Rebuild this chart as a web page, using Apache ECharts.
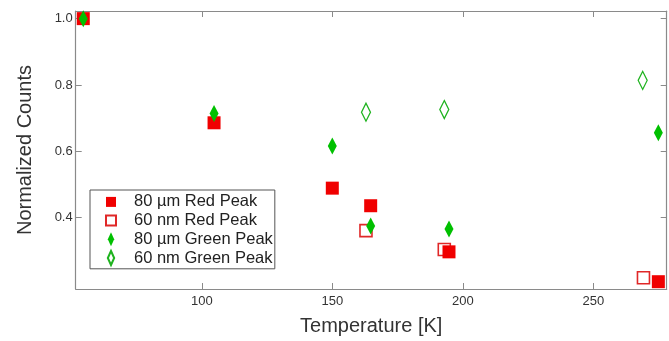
<!DOCTYPE html>
<html>
<head>
<meta charset="utf-8">
<script src="https://cdn.jsdelivr.net/npm/echarts@6/dist/echarts.min.js"></script>
<style>html,body{margin:0;padding:0;background:#fff}#c{width:669px;height:341px}</style>
</head>
<body>
<div id="c"></div>
<script>
// Data
const temps80Red   = [54.6, 104.7, 150.0, 164.7, 194.7, 274.9];
const vals80Red    = [1.000, 0.686, 0.489, 0.436, 0.297, 0.207];
const temps60Red   = [162.9, 192.9, 269.2];
const vals60Red    = [0.361, 0.304, 0.219];
const temps80Green = [54.6, 104.7, 150.0, 164.7, 194.7, 274.9];
const vals80Green  = [1.000, 0.714, 0.616, 0.375, 0.366, 0.656];
const temps60Green = [162.9, 192.9, 268.9];
const vals60Green  = [0.718, 0.726, 0.814];
const xTicks = [100, 150, 200, 250];
const yTicks = [0.4, 0.6, 0.8, 1.0];
const seriesNames = ['80 µm Red Peak', '60 nm Red Peak', '80 µm Green Peak', '60 nm Green Peak'];

const pair = (xs, ys) => xs.map((x, i) => [x, ys[i]]);
const FONT = '"Liberation Sans", Arial, sans-serif';
const frame = '#8a8a8a';

const chart = echarts.init(document.getElementById('c'), null, {renderer: 'canvas'});
const xCommon = {type: 'value', min: 51.7, max: 278.1, splitLine: {show: false},
  axisLine: {show: true, lineStyle: {color: frame, width: 1.2}},
  axisTick: {show: true, inside: true, length: 6, customValues: xTicks, lineStyle: {color: frame}}};
const yCommon = {type: 'value', min: 0.185, max: 1.023, splitLine: {show: false},
  axisLine: {show: true, lineStyle: {color: frame, width: 1.2}},
  axisTick: {show: true, inside: true, length: 6, customValues: yTicks, lineStyle: {color: frame}}};

chart.setOption({
  animation: false,
  grid: {left: 75.7, right: 2.3, top: 11, bottom: 50.5},
  xAxis: [
    Object.assign({}, xCommon, {position: 'bottom',
      name: 'Temperature [K]', nameLocation: 'middle', nameGap: 27,
      nameTextStyle: {fontFamily: FONT, fontSize: 20, color: '#333'},
      axisLabel: {customValues: xTicks, margin: 6, fontFamily: FONT, fontSize: 13, color: '#333'}}),
    Object.assign({}, xCommon, {position: 'top', axisLabel: {show: false}})
  ],
  yAxis: [
    Object.assign({}, yCommon, {position: 'left',
      name: 'Normalized Counts', nameLocation: 'middle', nameGap: 40,
      nameTextStyle: {fontFamily: FONT, fontSize: 20, color: '#333'},
      axisLabel: {customValues: yTicks, margin: 3, fontFamily: FONT, fontSize: 13, color: '#333',
        formatter: v => v.toFixed(1)}}),
    Object.assign({}, yCommon, {position: 'right', axisLabel: {show: false}})
  ],
  legend: {
    orient: 'vertical', left: 90, top: 190,
    padding: [3.4, 2, 2.3, 15],
    itemWidth: 10, itemHeight: 14, itemGap: 1.7,
    borderColor: '#555', borderWidth: 1,
    textStyle: {fontFamily: FONT, fontSize: 16.5, lineHeight: 16, color: '#222', padding: [0, 0, 0, 13]},
    data: [
      {name: seriesNames[0], icon: 'path://M0,0H10V10H0Z'},
      {name: seriesNames[1], icon: 'path://M0,0H10V10H0Z'},
      {name: seriesNames[2], icon: 'path://M5,0L10,11L5,22L0,11Z'},
      {name: seriesNames[3], icon: 'path://M5,0L10,11L5,22L0,11Z'}
    ]
  },
  series: [
    {name: seriesNames[1], type: 'scatter', data: pair(temps60Red, vals60Red), z: 2,
      symbol: 'rect', symbolSize: 12,
      itemStyle: {color: '#fff', borderColor: '#e02828', borderWidth: 1.6, opacity: 1}, clip: false},
    {name: seriesNames[0], type: 'scatter', data: pair(temps80Red, vals80Red), z: 3,
      symbol: 'rect', symbolSize: 13,
      itemStyle: {color: '#f00000', opacity: 1}, clip: false},
    {name: seriesNames[2], type: 'scatter', data: pair(temps80Green, vals80Green), z: 4,
      symbol: 'diamond', symbolSize: [9, 17],
      itemStyle: {color: '#00c000', opacity: 1}, clip: false},
    {name: seriesNames[3], type: 'scatter', data: pair(temps60Green, vals60Green), z: 4,
      symbol: 'diamond', symbolSize: [9, 18],
      itemStyle: {color: '#fff', borderColor: '#1fb31f', borderWidth: 1.4, opacity: 1}, clip: false}
  ]
});
</script>
</body>
</html>
